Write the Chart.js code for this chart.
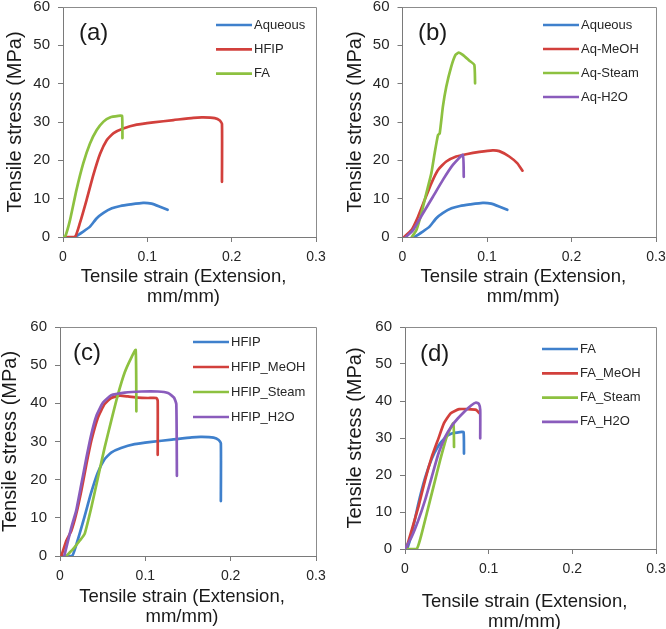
<!DOCTYPE html>
<html>
<head>
<meta charset="utf-8">
<script src="https://cdn.jsdelivr.net/npm/chart.js@4"></script>
<style>
    body { margin: 0; background: #fff; }
    #wrap { position: relative; width: 666px; height: 629px; }
    #wrap canvas { position: absolute; }
</style>
</head>
<body>
<div id="wrap">
    <canvas id="panel-a" width="333" height="310" style="left:0;top:0"></canvas>
    <canvas id="panel-b" width="333" height="310" style="left:333px;top:0"></canvas>
    <canvas id="panel-c" width="333" height="319" style="left:0;top:310px"></canvas>
    <canvas id="panel-d" width="333" height="319" style="left:333px;top:310px"></canvas>
</div>
<script>
// Stress-strain curves (strain in mm/mm, stress in MPa)
const aqueousStrain = [0.0142, 0.024, 0.032, 0.040, 0.048, 0.058, 0.068, 0.080, 0.095, 0.105, 0.115, 0.124];
const aqueousStress = [0, 1.4, 2.7, 4.9, 6.3, 7.5, 8.1, 8.5, 8.9, 8.7, 7.9, 7.1];

const hfipStrain = [0.002, 0.0142, 0.020, 0.028, 0.036, 0.044, 0.052, 0.060, 0.0715, 0.0874, 0.107, 0.131, 0.1545, 0.1664, 0.180, 0.186, 0.1885, 0.1885];
const hfipStress = [0, 0, 3.6, 9.7, 16.2, 21.7, 25.3, 27.1, 28.3, 29.3, 29.9, 30.5, 31.1, 31.2, 31.0, 30.4, 29.5, 14.4];

const faStrain = [0, 0.0024, 0.0083, 0.016, 0.024, 0.032, 0.040, 0.048, 0.0557, 0.0656, 0.0700, 0.0705];
const faStress = [0, 0, 4.4, 12.3, 19.2, 24.4, 27.9, 30.1, 31.2, 31.6, 31.6, 25.8];

const aqMeohStrain = [0.002, 0.0106, 0.0184, 0.0263, 0.0341, 0.042, 0.0518, 0.0635, 0.0753, 0.091, 0.1067, 0.1145, 0.1263, 0.136, 0.142];
const aqMeohStress = [0, 1.8, 5.3, 9.7, 14.0, 17.5, 19.7, 21.0, 21.6, 22.2, 22.6, 22.4, 21.0, 19.2, 17.3];

const aqSteamStrain = [0.011, 0.0165, 0.0224, 0.0282, 0.0341, 0.038, 0.042, 0.044, 0.0478, 0.0518, 0.0576, 0.0627, 0.0667, 0.0714, 0.0792, 0.085, 0.0859];
const aqSteamStress = [0, 1.8, 6.2, 11.4, 16.6, 21.8, 26.6, 27.0, 34.0, 39.2, 44.4, 47.5, 48.1, 47.5, 46.0, 44.9, 40.1];

const aqH2oStrain = [0.004, 0.0125, 0.0243, 0.036, 0.0478, 0.0596, 0.0714, 0.0725];
const aqH2oStress = [0, 1.8, 6.2, 10.5, 14.9, 18.8, 21.4, 15.7];

const hfipMeohStrain = [0.0016, 0.0074, 0.0133, 0.019, 0.025, 0.031, 0.0367, 0.0445, 0.0523, 0.060, 0.070, 0.0797, 0.0914, 0.103, 0.1129, 0.1145, 0.1145];
const hfipMeohStress = [0, 4.0, 6.6, 11.0, 17.1, 24.1, 30.2, 36.3, 39.8, 41.4, 42.0, 41.8, 41.5, 41.4, 41.4, 40.7, 26.5];

const hfipSteamStrain = [0.0074, 0.0152, 0.023, 0.0289, 0.0367, 0.0445, 0.0523, 0.060, 0.068, 0.0758, 0.0836, 0.0887, 0.0895];
const hfipSteamStress = [0, 1.8, 4.0, 5.8, 12.7, 20.6, 28.4, 35.4, 42.4, 48.1, 52.0, 54.0, 37.9];

const hfipH2oStrain = [0.005, 0.0133, 0.019, 0.025, 0.031, 0.0367, 0.0426, 0.0504, 0.060, 0.0758, 0.0953, 0.1148, 0.1266, 0.1336, 0.1363, 0.137];
const hfipH2oStress = [0, 7.5, 11.9, 18.8, 25.8, 31.9, 36.7, 40.2, 42.1, 42.8, 43.1, 43.1, 42.7, 41.5, 39.8, 21.0];

const faMeohStrain = [0, 0.002, 0.008, 0.016, 0.024, 0.032, 0.040, 0.0466, 0.0547, 0.0648, 0.075, 0.085, 0.089];
const faMeohStress = [0, 0.5, 5.1, 11.4, 18.6, 24.9, 29.9, 34.0, 36.7, 37.8, 37.8, 37.6, 36.7];

const faSteamStrain = [0, 0.014, 0.020, 0.026, 0.034, 0.042, 0.050, 0.0578, 0.0586];
const faSteamStress = [0, 0, 4.2, 9.6, 16.8, 24.0, 30.4, 34.0, 27.6];

const faH2oStrain = [0, 0.008, 0.016, 0.024, 0.032, 0.040, 0.048, 0.056, 0.0628, 0.0709, 0.079, 0.085, 0.0883, 0.0899, 0.0899];
const faH2oStress = [0, 3.3, 7.8, 13.2, 19.5, 25.8, 30.3, 33.3, 35.2, 37.1, 38.8, 39.6, 39.2, 37.6, 29.9];

const xTickLabels = ['0', '0.1', '0.2', '0.3'];
const yTickLabels = ['0', '10', '20', '30', '40', '50', '60'];
const xTitleLines = ['Tensile strain (Extension,', 'mm/mm)'];
const yTitle = 'Tensile stress (MPa)';

const colors = {
    blue: '#3f80cc',
    red: '#d2403c',
    green: '#8dc140',
    purple: '#8a5cbc'
};

const FONT = 'Arial, "Liberation Sans", sans-serif';
Chart.defaults.font.family = FONT;
Chart.defaults.color = '#262626';

function toPoints(xs, ys) {
    return xs.map((x, i) => ({ x: x, y: ys[i] }));
}

function series(label, xs, ys, color) {
    return {
        label: label,
        data: toPoints(xs, ys),
        borderColor: color,
        backgroundColor: color,
        borderWidth: 2.7,
        pointRadius: 0,
        showLine: true,
        tension: 0.15,
        borderJoinStyle: 'round',
        borderCapStyle: 'round'
    };
}

// grey box around the plot area (top and right sides)
const frameBox = {
    id: 'frameBox',
    afterDraw(chart) {
        const { ctx, chartArea } = chart;
        ctx.save();
        ctx.strokeStyle = '#8c8c8c';
        ctx.lineWidth = 1;
        ctx.beginPath();
        ctx.moveTo(chartArea.left, chartArea.top + 0.5);
        ctx.lineTo(chartArea.right + 0.5, chartArea.top + 0.5);
        ctx.lineTo(chartArea.right + 0.5, chartArea.bottom);
        ctx.stroke();
        ctx.restore();
    }
};

// legend with short line samples, panel letter and the x title
const panelDecor = {
    id: 'panelDecor',
    afterDraw(chart, args, opts) {
        const { ctx, chartArea } = chart;
        ctx.save();
        ctx.font = '13px ' + FONT;
        ctx.textBaseline = 'middle';
        ctx.fillStyle = '#262626';
        chart.data.datasets.forEach((ds, i) => {
            const y = opts.y + i * opts.gap;
            ctx.strokeStyle = ds.borderColor;
            ctx.lineWidth = 2.7;
            ctx.beginPath();
            ctx.moveTo(opts.x, y);
            ctx.lineTo(opts.x + 36, y);
            ctx.stroke();
            ctx.fillText(ds.label, opts.x + 38, y);
        });

        ctx.font = '24px ' + FONT;
        ctx.fillStyle = '#1a1a1a';
        ctx.fillText(opts.tag, opts.tagX, opts.tagY);

        // x axis title, sits a little left of the plot centre like the original
        ctx.font = '18.5px ' + FONT;
        ctx.textAlign = 'center';
        const cx = (chartArea.left + chartArea.right) / 2 - 6;
        xTitleLines.forEach((line, i) => {
            ctx.fillText(line, cx, opts.titleY + i * 20);
        });
        ctx.restore();
    }
};

function dropScalePadding(scale) {
    scale.paddingTop = 0;
    scale.paddingBottom = 0;
    scale.paddingLeft = 0;
    scale.paddingRight = 0;
}

function makePanel(canvasId, datasets, layout) {
    const ctx = document.getElementById(canvasId).getContext('2d');
    datasets.forEach((ds, i) => { ds.order = -i; });

    return new Chart(ctx, {
        type: 'scatter',
        data: { datasets: datasets },
        plugins: [frameBox, panelDecor],
        options: {
            responsive: false,
            animation: false,
            layout: { padding: { top: layout.top, right: layout.right, left: 0, bottom: 0 } },
            scales: {
                x: {
                    type: 'linear',
                    min: 0,
                    max: 0.3,
                    afterFit: scale => {
                        scale.height = layout.xHeight;
                        dropScalePadding(scale);
                    },
                    afterBuildTicks: scale => {
                        scale.ticks = xTickLabels.map(t => ({ value: parseFloat(t) }));
                    },
                    ticks: {
                        autoSkip: false,
                        maxRotation: 0,
                        padding: 7,
                        color: '#262626',
                        font: { size: 14 },
                        callback: (value, index) => xTickLabels[index]
                    },
                    grid: { drawOnChartArea: false, drawTicks: true, tickLength: 5, color: '#7a7a7a' },
                    border: { display: true, color: '#7a7a7a', width: 1 },
                    title: { display: false }
                },
                y: {
                    type: 'linear',
                    min: 0,
                    max: 60,
                    afterFit: scale => {
                        scale.width = layout.yWidth;
                        dropScalePadding(scale);
                    },
                    afterBuildTicks: scale => {
                        scale.ticks = yTickLabels.map(t => ({ value: parseFloat(t) }));
                    },
                    ticks: {
                        padding: 8,
                        color: '#262626',
                        font: { size: 15 },
                        callback: (value, index) => yTickLabels[index]
                    },
                    grid: { drawOnChartArea: false, drawTicks: true, tickLength: 5, color: '#7a7a7a' },
                    border: { display: true, color: '#7a7a7a', width: 1 },
                    title: {
                        display: true,
                        text: yTitle,
                        color: '#1a1a1a',
                        font: { size: 20, lineHeight: 1 },
                        padding: { top: layout.yTitlePad, bottom: 0 }
                    }
                }
            },
            plugins: {
                legend: { display: false },
                tooltip: { enabled: false },
                panelDecor: layout.decor
            }
        }
    });
}

document.addEventListener('DOMContentLoaded', () => {
    makePanel('panel-a', [
        series('Aqueous', aqueousStrain, aqueousStress, colors.blue),
        series('HFIP', hfipStrain, hfipStress, colors.red),
        series('FA', faStrain, faStress, colors.green)
    ], {
        top: 7, right: 17, xHeight: 73, yWidth: 63, yTitlePad: 5,
        decor: { x: 216, y: 25, gap: 24.3, tag: '(a)', tagX: 79, tagY: 33, titleY: 276.7 }
    });

    makePanel('panel-b', [
        series('Aqueous', aqueousStrain, aqueousStress, colors.blue),
        series('Aq-MeOH', aqMeohStrain, aqMeohStress, colors.red),
        series('Aq-Steam', aqSteamStrain, aqSteamStress, colors.green),
        series('Aq-H2O', aqH2oStrain, aqH2oStress, colors.purple)
    ], {
        top: 7, right: 10, xHeight: 73, yWidth: 69.5, yTitlePad: 12,
        decor: { x: 210, y: 25, gap: 24, tag: '(b)', tagX: 85, tagY: 33, titleY: 276.7 }
    });

    makePanel('panel-c', [
        series('HFIP', hfipStrain, hfipStress, colors.blue),
        series('HFIP_MeOH', hfipMeohStrain, hfipMeohStress, colors.red),
        series('HFIP_Steam', hfipSteamStrain, hfipSteamStress, colors.green),
        series('HFIP_H2O', hfipH2oStrain, hfipH2oStress, colors.purple)
    ], {
        top: 17, right: 17, xHeight: 73, yWidth: 60, yTitlePad: 0,
        decor: { x: 193, y: 32, gap: 25, tag: '(c)', tagX: 73, tagY: 43, titleY: 286.7 }
    });

    makePanel('panel-d', [
        series('FA', faStrain, faStress, colors.blue),
        series('FA_MeOH', faMeohStrain, faMeohStress, colors.red),
        series('FA_Steam', faSteamStrain, faSteamStress, colors.green),
        series('FA_H2O', faH2oStrain, faH2oStress, colors.purple)
    ], {
        top: 17, right: 10, xHeight: 80, yWidth: 72, yTitlePad: 12,
        decor: { x: 209, y: 39, gap: 24.3, tag: '(d)', tagX: 87, tagY: 44, titleY: 291.7 }
    });
});
</script>
</body>
</html>
